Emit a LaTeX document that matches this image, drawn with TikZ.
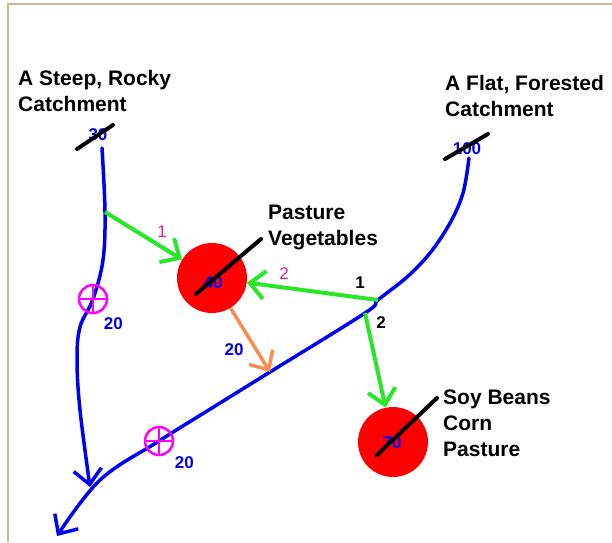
\documentclass[tikz,border=0pt]{standalone}
\usepackage{fontspec}
\setmainfont{Liberation Sans}
\usetikzlibrary{positioning, arrows.meta}

\definecolor{riverblue}{RGB}{0,0,240}
\definecolor{flowgreen}{RGB}{40,230,40}
\definecolor{runoff}{RGB}{250,140,80}
\definecolor{splitpink}{RGB}{230,30,140}
\definecolor{gaugepink}{RGB}{255,0,255}
\definecolor{frametan}{RGB}{210,180,140}

\begin{document}
\begin{tikzpicture}[
	x=1pt, y=-1pt,
	>={Straight Barb[length=15pt, width=28pt]},
	% Define styles
	catchment/.style={font=\fontsize{21}{26}\selectfont\bfseries, align=left, inner sep=0pt, anchor=north west},
	field/.style={circle, fill=red, minimum size=70pt, inner sep=0pt},
	amount/.style={text=riverblue, font=\fontsize{17}{20}\selectfont\bfseries, inner sep=0pt},
	share/.style={font=\fontsize{17}{20}\selectfont\bfseries, inner sep=0pt},
	pinkshare/.style={text=splitpink, font=\fontsize{17}{20}\selectfont, inner sep=0pt},
	gauge/.style={circle, draw=gaugepink, line width=2.5pt, minimum size=28pt, inner sep=0pt},
	river/.style={->, draw=riverblue, line width=3.5pt, line cap=round},
	diversion/.style={->, draw=flowgreen, line width=4pt},
	drainage/.style={->, draw=runoff, line width=3.5pt},
	strike/.style={line width=4pt, line cap=round}
	]
	\useasboundingbox (0,0) rectangle (612,542);
	\draw[frametan, line width=2pt] (8,542) -- (8,4) -- (612,4);
	
	% 1. Catchments
	\node[catchment] (steep) at (18,70) {A Steep, Rocky\\Catchment};
	\node[catchment] (flat) at (445,75) {A Flat, Forested\\Catchment};
	\node[amount] (steepin) at (98,135) {30};
	\node[amount] (flatin) at (467,149) {100};
	
	% 2. Fields
	\node[field] (pasture) at (212,278) {};
	\node[field] (soy) at (393,442) {};
	\node[amount] (pasturein) at (213,283) {40};
	\node[amount] (soyin) at (392,443) {70};
	\node[catchment] (pasturename) at (268,205) {Pasture\\Vegetables};
	\node[catchment] (soyname) at (443,390) {Soy Beans\\Corn\\Pasture};
	
	% Crossed-out amounts
	\draw[strike] ([shift={(-21,14)}]steepin.center) -- ([shift={(15,-10)}]steepin.center);
	\draw[strike] ([shift={(-22,10)}]flatin.center) -- ([shift={(21,-15)}]flatin.center);
	\draw[strike] ([shift={(-17,11)}]pasturein.center) -- ([shift={(48,-44)}]pasturein.center);
	\draw[strike] ([shift={(-15,12)}]soyin.center) -- ([shift={(45,-45)}]soyin.center);
	
	% 3. Streams
	\coordinate (steepsrc) at (102,148);
	\coordinate (take1) at (105,212);
	\coordinate (g1) at (93,299);
	\coordinate (meet) at (90,487);
	\coordinate (flatsrc) at (469,158);
	\coordinate (take2) at (378,300);
	\coordinate (take3) at (365,313);
	\coordinate (pvout) at (270,372);
	\coordinate (g2) at (159,441);
	\coordinate (outlet) at (57,536);
	
	\draw[river] plot[smooth, tension=0.6] coordinates {(steepsrc) (take1) (103,260) (g1) (80,327) (77,360) (80,410) (meet)};
	\draw[river] plot[smooth, tension=0.6] coordinates {(flatsrc) (463,193) (450,223) (430,253) (407,277) (take2) (take3) (pvout) (220,403) (g2) (100,480) (outlet)};
	
	% Gauges
	\node[gauge] (gaugeA) at (g1) {};
	\node[gauge] (gaugeB) at (g2) {};
	\draw[gaugepink, line width=2pt] (gaugeA.north) -- (gaugeA.south) (gaugeA.west) -- (gaugeA.east);
	\draw[gaugepink, line width=2pt] (gaugeB.north) -- (gaugeB.south) (gaugeB.west) -- (gaugeB.east);
	\node[amount, anchor=north west, below right=8pt and 0pt of gaugeA] (gaugeAval) {20};
	\node[amount, anchor=north west, below right=5pt and 5pt of gaugeB] (gaugeBval) {20};
	
	% 4. Diversions
	\draw[diversion] (take1) -- (pasture);
	\draw[diversion] (take2) -- (pasture);
	\draw[diversion] (take3) -- (soy);
	\draw[drainage] (pasture) -- (pvout);
	
	\node[pinkshare] (share1) at (162,232) {1};
	\node[pinkshare] (share2) at (284,274) {2};
	\node[share] (split1) at (360,283) {1};
	\node[share] (split2) at (381,323) {2};
	\node[amount] (runoffval) at (234,350) {20};
\end{tikzpicture}
\end{document}
